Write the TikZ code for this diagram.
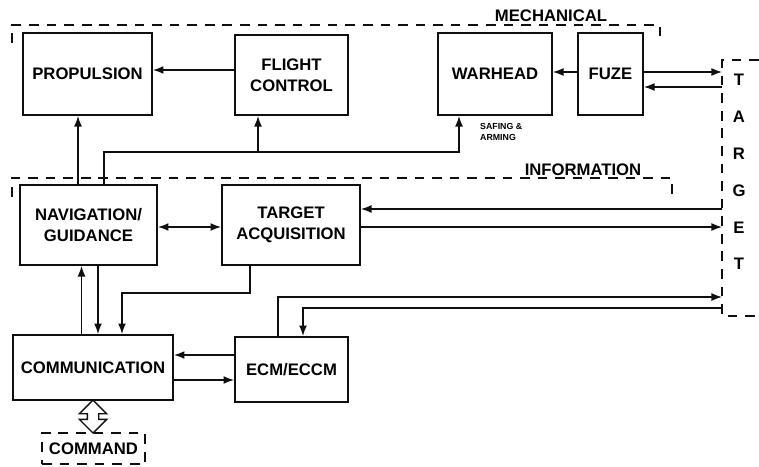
\documentclass[tikz,border=0pt]{standalone}
\usepackage{fontspec}
\setmainfont{Liberation Sans}
\usetikzlibrary{positioning,calc,arrows.meta,shapes.arrows}
\definecolor{sysink}{RGB}{15,15,15}

\begin{document}
\begin{tikzpicture}[x=0.02cm,y=-0.02cm,
  font=\fontsize{9.5}{12}\selectfont\bfseries,
  block/.style={draw=sysink,line width=1.1pt,inner sep=1pt,align=center},
  grouping/.style={draw=sysink,line width=0.8pt,dash pattern=on 5.5pt off 4.5pt},
  link/.style={draw=sysink,line width=0.8pt,-{Latex[length=6pt,width=4.5pt]}},
  bilink/.style={draw=sysink,line width=0.8pt,{Latex[length=6pt,width=4.5pt]}-{Latex[length=6pt,width=4.5pt]}}]

\useasboundingbox (0,0) rectangle (759,466);

% groups
\draw[grouping] (12,43) -- (12,25) -- (660,25) -- (660,43);
\node[anchor=south,inner sep=1pt] (mechlbl) at (551,24) {MECHANICAL};
\draw[grouping] (12,197) -- (12,178) -- (672,178) -- (672,197);
\node[anchor=south,inner sep=1pt] (infolbl) at (583,178) {INFORMATION};

% target
\draw[grouping] (759,60) -| (722,316) -- (759,316);
\node[font=\fontsize{9.5}{21}\selectfont\bfseries,align=center] (tgt) at (739,172) {T\\A\\R\\G\\E\\T};
\coordinate (tf1) at (722,72);
\coordinate (tf2) at (722,87);
\coordinate (ta1) at (722,209);
\coordinate (ta2) at (722,227);
\coordinate (te1) at (722,297);
\coordinate (te2) at (722,308);

% blocks
\node[block,minimum width=2.58cm,minimum height=1.64cm] (prop) at (87.5,74) {PROPULSION};
\node[block,minimum width=2.26cm,minimum height=1.6cm] (flight) at (291.5,75) {FLIGHT\\CONTROL};
\node[block,minimum width=2.28cm,minimum height=1.64cm] (warhead) at (495,74) {WARHEAD};
\node[block,minimum width=1.3cm,minimum height=1.64cm] (fuze) at (610.5,74) {FUZE};
\node[block,minimum width=2.74cm,minimum height=1.6cm] (nav) at (88.5,225) {NAVIGATION/\\GUIDANCE};
\node[block,minimum width=2.76cm,minimum height=1.6cm] (acq) at (291,225) {TARGET\\ACQUISITION};
\node[block,minimum width=3.2cm,minimum height=1.3cm] (comm) at (93,367.5) {COMMUNICATION};
\node[block,minimum width=2.26cm,minimum height=1.3cm] (ecm) at (291.5,369.5) {ECM/ECCM};
\node[grouping,minimum width=2.06cm,minimum height=0.62cm,inner sep=1pt] (cmd) at (93.5,448.5) {COMMAND};
\node[double arrow,draw=sysink,line width=0.8pt,fill=white,rotate=90,inner sep=0.1cm,
  minimum height=0.66cm,double arrow head extend=0.16cm] (cmdlink) at (93,416.5) {};

% mechanical links
\draw[link] ([yshift=0.1cm]flight.west) -- ([yshift=0.1cm]prop.east |- flight.west);
\draw[link] ([yshift=0.04cm]fuze.west) -- ([yshift=0.04cm]warhead.east |- fuze.west);
\draw[link] (fuze.east |- tf1) -- (tf1);
\draw[link] (tf2) -- (fuze.east |- tf2);
\draw[link] ([xshift=-0.21cm]nav.north) -- ([xshift=-0.21cm]nav.north |- prop.south);
\coordinate (safe) at (459,152);
\draw[link] ([xshift=0.31cm]nav.north) |- (safe) -- (safe |- warhead.south);
\draw[link] ([xshift=-0.67cm]flight.south |- safe) -- ([xshift=-0.67cm]flight.south);
\node[font=\fontsize{5}{6}\selectfont\bfseries,align=left,anchor=west] (safelbl) at (474,132) {SAFING \&\\ARMING};

% information links
\draw[bilink] ([yshift=-0.04cm]nav.east) -- ([yshift=-0.04cm]acq.west);
\draw[link] (ta1) -- (acq.east |- ta1);
\draw[link] (acq.east |- ta2) -- (ta2);
\draw[link] ([xshift=0.19cm]nav.south) -- ([xshift=0.19cm]nav.south |- comm.north);
\draw[link] ([xshift=-0.23cm]comm.north) -- ([xshift=-0.23cm]comm.north |- nav.south);
\coordinate (cb) at (122,293);
\draw[link] ([xshift=-0.82cm]acq.south) |- (cb) -- (cb |- comm.north);
\draw[link] ([xshift=-0.27cm]ecm.north) |- (te1);
\draw[link] (te2) -| ([xshift=0.23cm]ecm.north);
\draw[link] ([yshift=0.29cm]ecm.west) -- ([yshift=0.29cm]comm.east |- ecm.west);
\draw[link] ([yshift=-0.21cm]comm.east |- ecm.west) -- ([yshift=-0.21cm]ecm.west);
\end{tikzpicture}
\end{document}
